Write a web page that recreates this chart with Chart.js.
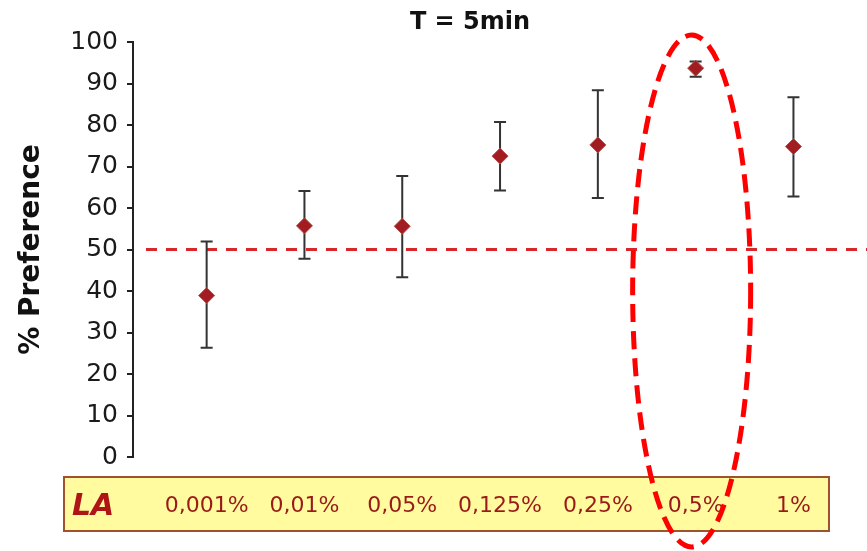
<!DOCTYPE html>
<html>
<head>
<meta charset="utf-8">
<script src="https://cdn.jsdelivr.net/npm/chart.js@4/dist/chart.umd.min.js"></script>
<style>
  html, body { margin: 0; padding: 0; background: #fff; }
  #wrap { width: 867px; height: 551px; }
</style>
</head>
<body>
<div id="wrap"><canvas id="graph" width="867" height="551"></canvas></div>
<script>
var categories = ['0,001%', '0,01%', '0,05%', '0,125%', '0,25%', '0,5%', '1%'];
var means = [38.9, 55.7, 55.6, 72.5, 75.2, 93.7, 74.8];
var upper = [51.9, 64.1, 67.7, 80.7, 88.4, 95.3, 86.7];
var lower = [26.3, 47.8, 43.3, 64.2, 62.4, 91.6, 62.8];
var yTicks = [0, 10, 20, 30, 40, 50, 60, 70, 80, 90, 100];
var chanceLevel = 50;
var chartTitle = 'T = 5min';
var axisTitle = '% Preference';
var rowLabel = 'LA';
var highlightIndex = 5;

var points = [];
for (var i = 0; i < categories.length; i++) {
    points.push({x: i, y: means[i]});
}

// yellow strip with the concentrations + title text
var decorations = {
    id: 'decorations',
    beforeDraw: function(chart) {
        var ctx = chart.ctx;
        ctx.save();
        ctx.fillStyle = '#ffffff';
        ctx.fillRect(0, 0, chart.width, chart.height);
        ctx.fillStyle = '#FFFB9E';
        ctx.strokeStyle = '#A0522D';
        ctx.lineWidth = 2;
        ctx.fillRect(64, 477, 765, 54);
        ctx.strokeRect(64, 477, 765, 54);
        ctx.fillStyle = '#B01515';
        ctx.font = 'bold italic 30px "DejaVu Sans"';
        ctx.textBaseline = 'middle';
        ctx.textAlign = 'left';
        ctx.fillText(rowLabel, 72, 507);
        ctx.fillStyle = '#111';
        ctx.font = 'bold 24px "DejaVu Sans"';
        ctx.textAlign = 'center';
        ctx.fillText(chartTitle, 470, 23);
        ctx.restore();
    },
    beforeDatasetsDraw: function(chart) {
        var ctx = chart.ctx;
        var xs = chart.scales.x, ys = chart.scales.y;
        var area = chart.chartArea;
        ctx.save();
        // 50% line
        ctx.strokeStyle = '#D8262B';
        ctx.lineWidth = 3;
        ctx.setLineDash([11, 9]);
        var y50 = ys.getPixelForValue(chanceLevel);
        ctx.beginPath();
        ctx.moveTo(area.left + 13, y50);
        ctx.lineTo(chart.width, y50);
        ctx.stroke();
        // error bars
        ctx.setLineDash([]);
        ctx.strokeStyle = '#333';
        ctx.lineWidth = 2;
        for (var i = 0; i < categories.length; i++) {
            var px = xs.getPixelForValue(i);
            var top = ys.getPixelForValue(upper[i]);
            var bot = ys.getPixelForValue(lower[i]);
            ctx.beginPath();
            ctx.moveTo(px, top); ctx.lineTo(px, bot);
            ctx.moveTo(px - 6, top); ctx.lineTo(px + 6, top);
            ctx.moveTo(px - 6, bot); ctx.lineTo(px + 6, bot);
            ctx.stroke();
        }
        ctx.restore();
    },
    afterDraw: function(chart) {
        var ctx = chart.ctx;
        var xs = chart.scales.x, ys = chart.scales.y;
        ctx.save();
        ctx.strokeStyle = '#FF0000';
        ctx.lineWidth = 5;
        ctx.setLineDash([18, 9]);
        ctx.beginPath();
        ctx.ellipse(xs.getPixelForValue(highlightIndex) - 4, ys.getPixelForValue(40), 59, 256, 0, 0, Math.PI * 2);
        ctx.stroke();
        ctx.restore();
    }
};

var ctx = document.getElementById('graph');
var chart = new Chart(ctx, {
    type: 'line',
    data: {
        datasets: [{
            data: points,
            showLine: false,
            pointStyle: 'rectRot',
            pointRadius: 8,
            pointHoverRadius: 8,
            pointBackgroundColor: '#A11D22',
            pointBorderColor: '#B84A4A',
            pointBorderWidth: 1
        }]
    },
    options: {
        responsive: false,
        animation: false,
        layout: { padding: { top: 42, right: 5, left: 0, bottom: 0 } },
        plugins: { legend: { display: false }, tooltip: { enabled: false } },
        scales: {
            x: {
                type: 'linear',
                min: -0.753,
                max: 6.66,
                afterBuildTicks: function(scale) {
                    scale.ticks = categories.map(function(c, i) { return {value: i}; });
                },
                afterFit: function(scale) { scale.height = 94; },
                grid: { display: false, drawTicks: false },
                border: { display: false },
                ticks: {
                    autoSkip: false,
                    maxRotation: 0,
                    padding: 36,
                    color: '#9A1A1A',
                    font: { family: 'DejaVu Sans', size: 22 },
                    callback: function(v) { return categories[v]; }
                }
            },
            y: {
                min: 0,
                max: 100,
                afterBuildTicks: function(scale) {
                    scale.ticks = yTicks.map(function(v) { return {value: v}; });
                },
                afterFit: function(scale) { scale.width = 133; },
                grid: { drawOnChartArea: false, tickLength: 6, color: '#222', lineWidth: 2 },
                border: { display: true, color: '#222', width: 2 },
                ticks: {
                    padding: 9,
                    color: '#1a1a1a',
                    font: { family: 'DejaVu Sans', size: 25 }
                },
                title: {
                    display: true,
                    text: axisTitle,
                    color: '#111',
                    padding: { top: 15, bottom: 0 },
                    font: { family: 'DejaVu Sans', size: 28, weight: 'bold' }
                }
            }
        }
    },
    plugins: [decorations]
});
</script>
</body>
</html>
